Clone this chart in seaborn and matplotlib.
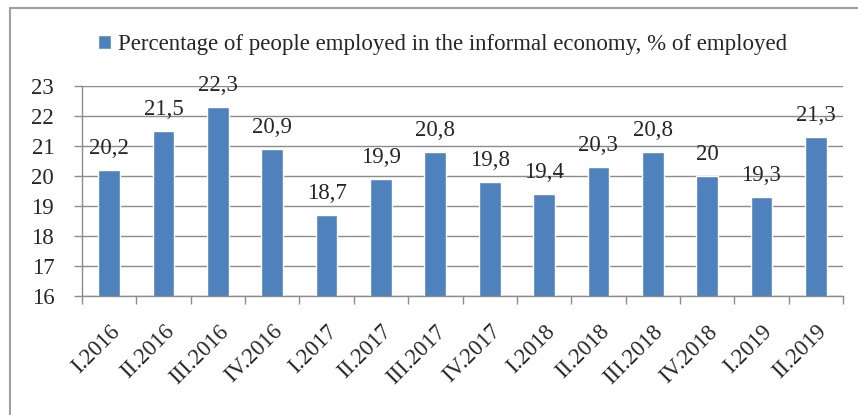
import matplotlib
matplotlib.use("Agg")
import matplotlib.pyplot as plt
import seaborn as sns
from matplotlib.patches import Rectangle
from matplotlib.ticker import FixedLocator

# quarterly share of informal employment
quarters = ["I.2016", "II.2016", "III.2016", "IV.2016",
            "I.2017", "II.2017", "III.2017", "IV.2017",
            "I.2018", "II.2018", "III.2018", "IV.2018",
            "I.2019", "II.2019"]
values = [20.2, 21.5, 22.3, 20.9, 18.7, 19.9, 20.8, 19.8,
          19.4, 20.3, 20.8, 20.0, 19.3, 21.3]
yticks = [16, 17, 18, 19, 20, 21, 22, 23]
series_name = "Percentage of people employed in the informal economy, % of employed"

sns.set_style("white")
plt.rcParams['font.family'] = ['Liberation Serif', 'DejaVu Serif']

bar_color = "#4F81BD"
grid_color = "#8C8C8C"
fs = 16.5

fig = plt.figure(figsize=(8.58, 4.15), dpi=100)
ax = fig.add_axes([0.0956, 0.2867, 0.8869, 0.5061])

sns.barplot(x=quarters, y=values, color=bar_color, width=0.4,
            saturation=1, label=series_name, ax=ax)

ax.set_xlim(-0.5, len(quarters) - 0.5)
ax.set_ylim(16, 23)
ax.set_yticks(yticks)
ax.set_yticklabels([str(t) for t in yticks], fontsize=fs)
ax.yaxis.grid(True, color=grid_color, linewidth=1)
ax.set_axisbelow(True)

# category labels at centres, tick marks at the boundaries
ax.set_xticks(range(len(quarters)))
ax.set_xticklabels(quarters, rotation=45, ha="right", rotation_mode="anchor",
                   fontsize=fs)
ax.xaxis.set_minor_locator(FixedLocator([i - 0.5 for i in range(len(quarters) + 1)]))
ax.tick_params(axis="x", which="major", length=0, pad=18)
ax.tick_params(axis="x", which="minor", length=6, color=grid_color, width=1,
               direction="out", bottom=True)
ax.tick_params(axis="y", length=6, color=grid_color, width=1, direction="out",
               left=True, pad=14)

for side in ["top", "right"]:
    ax.spines[side].set_visible(False)
for side in ["left", "bottom"]:
    ax.spines[side].set_color(grid_color)
    ax.spines[side].set_linewidth(1)

for i, v in enumerate(values):
    txt = f"{v:g}".replace(".", ",")
    ax.annotate(txt, (i, v), xytext=(0, 8), textcoords="offset points",
                ha="center", va="bottom", fontsize=fs, annotation_clip=False)

if ax.legend_:
    ax.legend_.remove()
handles, labels = ax.get_legend_handles_labels()
fig.legend(handles, labels, loc="center", bbox_to_anchor=(0.516, 0.893),
           frameon=False, fontsize=fs, handlelength=0.55, handleheight=0.55,
           handletextpad=0.3)

# chart frame (only left and top edges visible in the crop)
fig.patches.append(Rectangle((10 / 858, -0.1), 1.2, 1 - 8 / 415 + 0.1,
                             transform=fig.transFigure, fill=False,
                             edgecolor="#A0A0A0", linewidth=1.5))

fig.savefig("out.png", dpi=100)
